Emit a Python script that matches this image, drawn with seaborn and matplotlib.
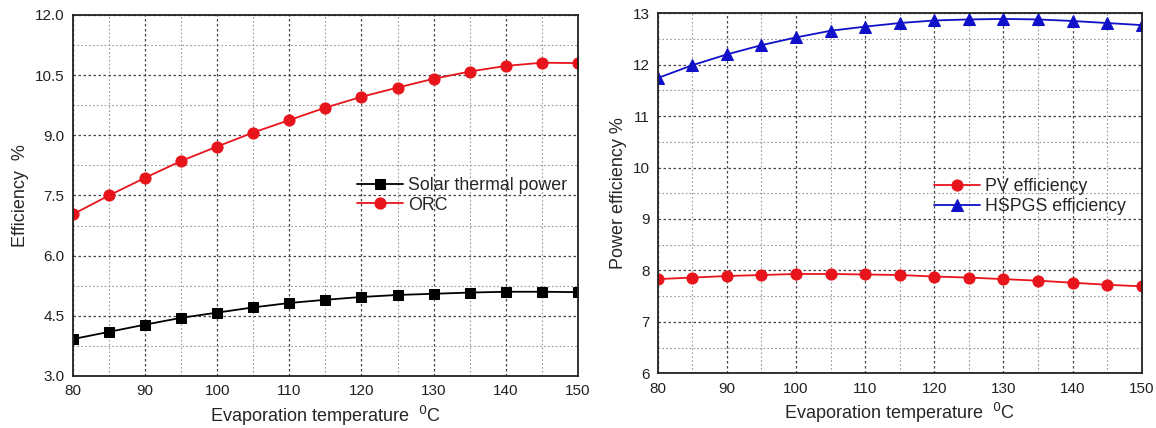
import numpy as np
import pandas as pd
import matplotlib
matplotlib.use('Agg')
import matplotlib.pyplot as plt
import seaborn as sns
from matplotlib.ticker import MultipleLocator

# Evaporation temperature (C)
temp = [80, 85, 90, 95, 100, 105, 110, 115, 120, 125, 130, 135, 140, 145, 150]

# left panel
solar_thermal = [3.92, 4.10, 4.28, 4.45, 4.58, 4.71, 4.82, 4.90, 4.97, 5.02, 5.05, 5.08, 5.10, 5.10, 5.09]
orc = [7.03, 7.50, 7.94, 8.36, 8.72, 9.07, 9.38, 9.69, 9.96, 10.19, 10.41, 10.59, 10.73, 10.81, 10.80]

# right panel
pv_eff = [7.83, 7.86, 7.89, 7.91, 7.93, 7.93, 7.92, 7.91, 7.88, 7.86, 7.83, 7.80, 7.76, 7.72, 7.69]
hspgs_eff = [11.74, 11.99, 12.20, 12.38, 12.53, 12.66, 12.74, 12.81, 12.86, 12.88, 12.89, 12.88, 12.85, 12.81, 12.77]

sns.set_style('white')
plt.rcParams['font.family'] = ['Liberation Sans', 'DejaVu Sans']

fig = plt.figure(figsize=(11.56, 4.28), dpi=100)
ax1 = fig.add_axes([0.063, 0.1215, 0.437, 0.8435])
ax2 = fig.add_axes([0.569, 0.128, 0.4186, 0.841])

left = pd.DataFrame({'T': temp, 'Solar thermal power': solar_thermal, 'ORC': orc})
right = pd.DataFrame({'T': temp, 'PV efficiency': pv_eff, 'HSPGS efficiency': hspgs_eff})

sns.lineplot(x='T', y='Solar thermal power', data=left, ax=ax1, color='black', marker='s',
             markersize=7, markeredgecolor='black', linewidth=1.3, label='Solar thermal power')
sns.lineplot(x='T', y='ORC', data=left, ax=ax1, color='#e8141c', marker='o',
             markersize=8, markeredgecolor='#e8141c', linewidth=1.3, label='ORC')

sns.lineplot(x='T', y='PV efficiency', data=right, ax=ax2, color='#e8141c', marker='o',
             markersize=8, markeredgecolor='#e8141c', linewidth=1.3, label='PV efficiency')
sns.lineplot(x='T', y='HSPGS efficiency', data=right, ax=ax2, color='#1010c8', marker='^',
             markersize=8, markeredgecolor='#1010c8', linewidth=1.3, label='HSPGS efficiency')

# axis setup
ax1.set_xlim(80, 150)
ax1.set_ylim(3.0, 12.0)
ax1.yaxis.set_major_locator(MultipleLocator(1.5))
ax1.yaxis.set_minor_locator(MultipleLocator(0.75))
ax1.set_yticklabels([f'{v:.1f}' for v in ax1.get_yticks()])
ax1.set_ylabel('Efficiency  %', fontsize=13)

ax2.set_xlim(80, 150)
ax2.set_ylim(6, 13)
ax2.yaxis.set_major_locator(MultipleLocator(1))
ax2.yaxis.set_minor_locator(MultipleLocator(0.5))
ax2.set_ylabel('Power efficiency %', fontsize=13)

for ax in (ax1, ax2):
    ax.xaxis.set_major_locator(MultipleLocator(10))
    ax.xaxis.set_minor_locator(MultipleLocator(5))
    ax.set_xlabel('Evaporation temperature  $^{0}$C', fontsize=13, labelpad=4)
    ax.tick_params(which='major', direction='in', length=6, width=1.2, labelsize=11,
                   colors='#222222', pad=6)
    ax.tick_params(which='minor', direction='in', length=3.5, width=1.0)
    ax.grid(which='major', color='#444444', linestyle=(0, (2, 2)), linewidth=0.9)
    ax.grid(which='minor', color='#999999', linestyle=(0, (1.5, 2)), linewidth=0.8)
    for s in ax.spines.values():
        s.set_color('#222222')
        s.set_linewidth(1.3)
    ax.set_axisbelow(True)

leg1 = ax1.legend(loc='lower right', bbox_to_anchor=(1.0, 0.42), frameon=False, fontsize=12.8,
                  handlelength=2.6, handletextpad=0.3, labelspacing=0.15, borderaxespad=0.2)
leg2 = ax2.legend(loc='lower right', bbox_to_anchor=(0.99, 0.41), frameon=False, fontsize=12.8,
                  handlelength=2.6, handletextpad=0.3, labelspacing=0.15, borderaxespad=0.2)
for leg in (leg1, leg2):
    leg.set_zorder(5)

plt.savefig('out.png', dpi=100)
